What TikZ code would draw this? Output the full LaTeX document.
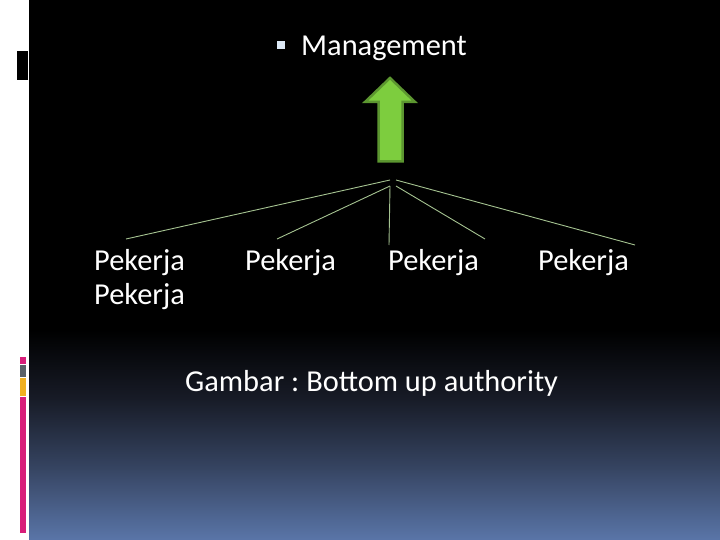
\documentclass[tikz,border=0pt]{standalone}
\usepackage{fontspec}
\setmainfont{Carlito}
\usepackage{tikz}
\frenchspacing

\definecolor{linegreen}{RGB}{165,195,145}
\definecolor{arrowfill}{RGB}{125,205,62}
\definecolor{arrowedge}{RGB}{92,150,48}
\definecolor{barpink}{RGB}{216,30,122}
\definecolor{bargray}{RGB}{90,97,104}
\definecolor{barorange}{RGB}{240,176,32}
\definecolor{bulletblue}{RGB}{220,232,245}
\definecolor{shadeA}{RGB}{24,28,40}
\definecolor{shadeB}{RGB}{55,70,100}
\definecolor{shadeC}{RGB}{90,117,168}

\begin{document}
\begin{tikzpicture}[x=1pt, y=-1pt,
        every node/.style={text=white, inner sep=0pt, font=\fontsize{30.4}{34}\selectfont}]
        % slide background
        \useasboundingbox (0,0) rectangle (720,540);
        \fill[white] (0,0) rectangle (720,540);
        \fill[black] (29,0) rectangle (720,331);
        \shade[top color=black, bottom color=shadeA] (29,330) rectangle (720,401);
        \shade[top color=shadeA, bottom color=shadeB] (29,400) rectangle (720,471);
        \shade[top color=shadeB, bottom color=shadeC] (29,470) rectangle (720,540);

        % left decoration
        \fill[black] (17,51) rectangle (28,80);
        \fill[barpink] (20,357) rectangle (26,364);
        \fill[bargray] (20,365) rectangle (26,377);
        \fill[barorange] (20,378) rectangle (26,396);
        \fill[barpink] (20,397) rectangle (26,533);

        % title
        \fill[bulletblue] (277,41) rectangle (285,49);
        \node[anchor=base west] (mgmt) at (301,56) {Management};

        % arrow up
        \draw[fill=arrowfill, draw=arrowedge, line width=2.5pt, line join=miter]
            (390,78) -- (415,102) -- (402.5,102) -- (402.5,161.5)
            -- (378.5,161.5) -- (378.5,102) -- (365,102) -- cycle;

        % workers
        \node[anchor=base west, align=left] (pek1) at (94,304) {Pekerja\\Pekerja};
        \node[anchor=base west] (pek2) at (245,270) {Pekerja};
        \node[anchor=base west] (pek3) at (388,270) {Pekerja};
        \node[anchor=base west] (pek4) at (538,270) {Pekerja};

        \node[anchor=base west] (caption) at (185,391) {Gambar : Bottom up authority};

        % lines
        \coordinate (hubL) at (390,180);
        \coordinate (hubM) at (390,186);
        \coordinate (hubR) at (396,186);
        \coordinate (hubRR) at (396,180);
        \coordinate (end1) at (126,239);
        \coordinate (end2) at (277,239);
        \coordinate (end3) at (389,245);
        \coordinate (end4) at (485,239);
        \coordinate (end5) at (635,245);

        \draw[linegreen, line width=0.9pt] (hubL) -- (end1);
        \draw[linegreen, line width=0.9pt] (hubM) -- (end2);
        \draw[linegreen, line width=0.9pt] (hubM) -- (end3);
        \draw[linegreen, line width=0.9pt] (hubR) -- (end4);
        \draw[linegreen, line width=0.9pt] (hubRR) -- (end5);
\end{tikzpicture}
\end{document}
